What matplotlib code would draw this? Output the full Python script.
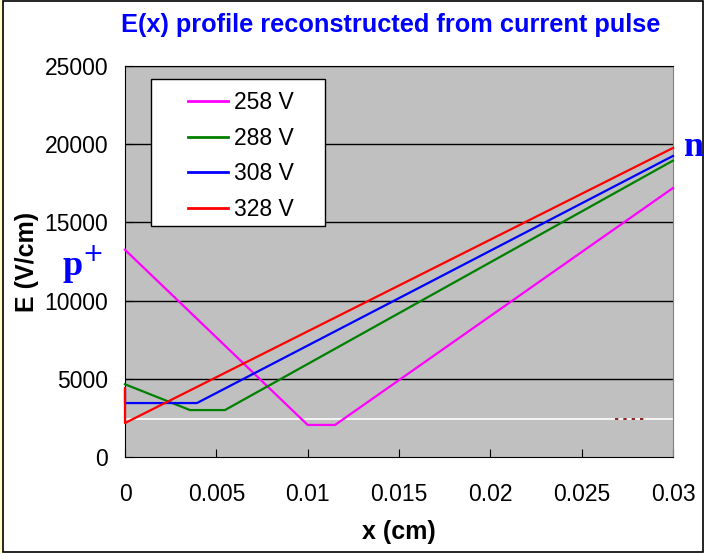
import matplotlib
matplotlib.use('Agg')
import matplotlib.pyplot as plt
from matplotlib.patches import Rectangle

plt.rcParams['font.family'] = ['Liberation Sans', 'DejaVu Sans']

# E(x) profiles (x in cm, E in V/cm)
x_258 = [0.0, 0.0100, 0.0115, 0.030]
e_258 = [13250, 2050, 2050, 17200]

x_288 = [0.0, 0.00356, 0.00547, 0.030]
e_288 = [4650, 3000, 3000, 18950]

x_308 = [0.0, 0.0, 0.00394, 0.030]
e_308 = [4280, 3450, 3450, 19250]

x_328 = [0.0, 0.0, 0.030]
e_328 = [4400, 2170, 19760]

white_x = [0.0, 0.030]
white_e = [2430, 2430]

labels = ['258 V', '288 V', '308 V', '328 V']
colors = ['#FF00FF', '#008000', '#0000FF', '#FF0000']
xticks = [0, 0.005, 0.01, 0.015, 0.02, 0.025, 0.03]
xtick_labels = ['0', '0.005', '0.01', '0.015', '0.02', '0.025', '0.03']
yticks = [0, 5000, 10000, 15000, 20000, 25000]

fs = 16.5

fig = plt.figure(figsize=(7.04, 5.53), dpi=100)
ax = fig.add_axes([125/704, 1 - 457/553, 548/704, 391/553])
ax.set_facecolor('#C0C0C0')

for y in yticks[1:]:
    ax.axhline(y, color='black', lw=1, zorder=1)
ax.plot(white_x, white_e, color='white', lw=1.2, zorder=1)
ax.plot([0.0268, 0.0284], [2430, 2430], color='#800000', lw=1.2,
        dashes=(2, 3), zorder=1)

series = [(x_258, e_258), (x_288, e_288), (x_308, e_308), (x_328, e_328)]
for (xs, es), lab, c in zip(series, labels, colors):
    ax.plot(xs, es, color=c, lw=1.6, label=lab, zorder=3, clip_on=False)

ax.set_xlim(0, 0.03)
ax.set_ylim(0, 25000)
ax.set_xticks(xticks)
ax.set_xticklabels(xtick_labels)
ax.set_yticks(yticks)
ax.tick_params(axis='both', direction='in', length=6, labelsize=fs,
               colors='black')
ax.tick_params(axis='x', pad=19)
ax.tick_params(axis='y', pad=12)

for s in ['left', 'bottom', 'top']:
    ax.spines[s].set_color('black')
ax.spines['right'].set_color('#808080')

ax.set_xlabel('x (cm)', fontsize=18, fontweight='bold', labelpad=10)
ax.set_ylabel('E (V/cm)', fontsize=18, fontweight='bold', labelpad=4)

# legend box
box = Rectangle((151/704, 1 - 226/553), 174/704, 147/553,
                transform=fig.transFigure, facecolor='white',
                edgecolor='black', lw=1, zorder=5, clip_on=False)
ax.add_patch(box)
leg = ax.legend(loc='upper left', bbox_to_anchor=(172/704, 1 - 75/553),
                bbox_transform=fig.transFigure, frameon=False,
                fontsize=fs, handlelength=1.75, handletextpad=0.25,
                labelspacing=0.55, borderpad=0.2)
leg.set_zorder(6)
for line in leg.get_lines():
    line.set_linewidth(2)

fig.text(391/704, 1 - 25/553, 'E(x) profile reconstructed from current pulse',
         color='#0000FF', fontsize=18.3, fontweight='bold',
         ha='center', va='center')
fig.text(62/704, 1 - 265/553, r'p$^{+}$', color='#0000FF', fontsize=26,
         fontweight='bold', family='Liberation Serif', ha='left', va='center')
fig.text(684/704, 1 - 148/553, 'n', color='#0000FF', fontsize=26,
         fontweight='bold', family='Liberation Serif', ha='left', va='center')

fig.patches.append(Rectangle((0, 0), 3/704, 1, transform=fig.transFigure,
                             facecolor='#FFFFCC', edgecolor='none'))
fig.patches.append(Rectangle((3/704, 1/553), 700/704, 551/553,
                             transform=fig.transFigure, fill=False,
                             edgecolor='black', lw=1.2))

fig.savefig('out.png', dpi=100)
